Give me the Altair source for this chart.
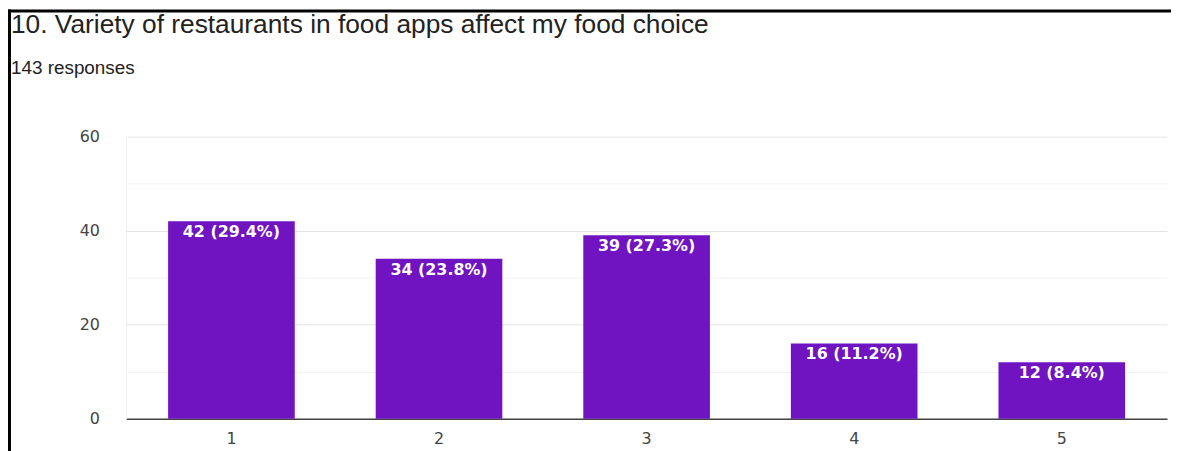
import altair as alt
import pandas as pd

categories = ["1", "2", "3", "4", "5"]
counts = [42, 34, 39, 16, 12]
labels = ["42 (29.4%)", "34 (23.8%)", "39 (27.3%)", "16 (11.2%)", "12 (8.4%)"]

TITLE = "10. Variety of restaurants in food apps affect my food choice"
SUBTITLE = "143 responses"

df = pd.DataFrame({"cat": categories, "count": counts, "label": labels})

W, H = 1048, 284
PL, PT = 119, 128

base = alt.Chart(df)

bars = base.mark_bar(color="#7013c0").encode(
    x=alt.X("cat:N", sort=categories, title=None,
            scale=alt.Scale(paddingInner=0.39, paddingOuter=0.202),
            axis=alt.Axis(labelAngle=0, ticks=False, domainColor="#444444", domainWidth=1.5,
                          labelColor="#444444", labelFontSize=16, labelFont="DejaVu Sans",
                          labelPadding=12, grid=False)),
    y=alt.Y("count:Q", title=None,
            scale=alt.Scale(domain=[0, 60], nice=False),
            axis=alt.Axis(values=[0, 10, 20, 30, 40, 50, 60], ticks=False,
                          labelExpr="datum.value % 20 === 0 ? datum.label : ''",
                          labelColor="#444444", labelFontSize=16, labelFont="DejaVu Sans",
                          labelPadding=27, domainColor="#f0f0f0",
                          gridColor={"condition": {"test": "datum.value % 20 === 0", "value": "#e4e4e4"},
                                     "value": "#f3f3f3"})),
)

text = base.mark_text(color="white", baseline="top", dy=3, fontSize=16,
                      font="DejaVu Sans", fontWeight="bold").encode(
    x=alt.X("cat:N", sort=categories),
    y=alt.Y("count:Q"),
    text="label:N",
)

frame = pd.DataFrame({"k": [0]})
top_line = alt.Chart(frame).mark_rule(color="black", strokeWidth=3).encode(
    x=alt.value(-PL), x2=alt.value(W + 20), y=alt.value(-PT + 1.5))
left_line = alt.Chart(frame).mark_rule(color="black", strokeWidth=3).encode(
    x=alt.value(-PL + 1.5), y=alt.value(-PT), y2=alt.value(H + 40))

chart = alt.layer(bars, text, top_line, left_line).properties(
    width=W, height=H,
    autosize=alt.AutoSizeParams(type="none"),
    padding={"left": PL, "top": PT, "right": 4, "bottom": 31},
    title=alt.TitleParams(TITLE, subtitle=SUBTITLE, anchor="start", frame="group",
                          dx=-116, dy=70, offset=0, font="Liberation Sans", fontSize=26.5,
                          fontWeight="normal", color="#222222",
                          subtitleFont="Liberation Sans", subtitleFontSize=19,
                          subtitleColor="#222222", subtitlePadding=20),
).configure_view(stroke=None)

chart.save("out.html", embed_options={"renderer": "svg", "actions": False})
